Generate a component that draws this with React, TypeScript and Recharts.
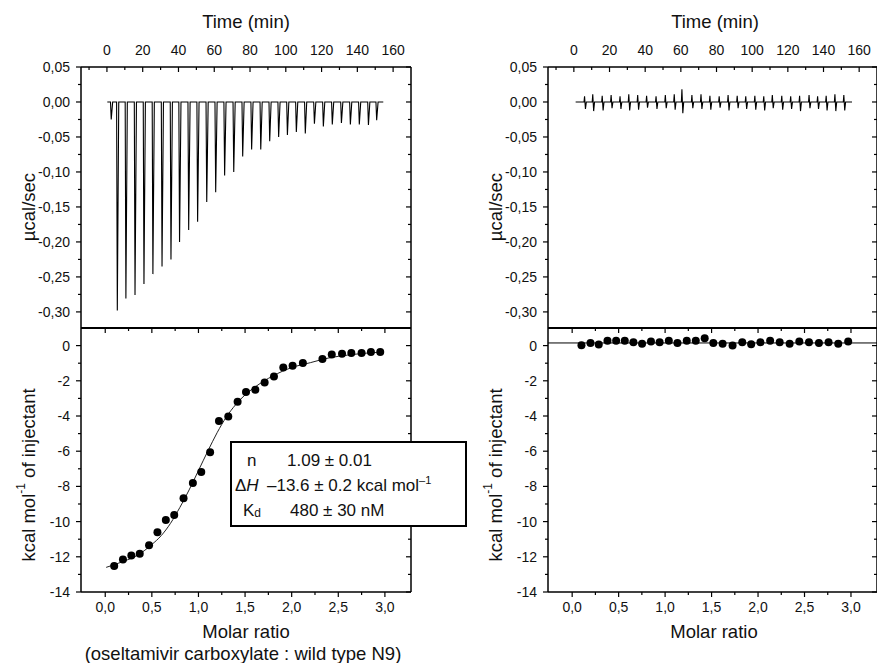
import React from 'react';
import { ComposedChart, Line, Scatter, XAxis, YAxis, ReferenceLine } from 'recharts';

const FONT = '"Liberation Sans", Arial, Helvetica, sans-serif';

// axis ticks
const TIME_MAJOR = [0, 20, 40, 60, 80, 100, 120, 140, 160];
const TIME_MINOR = [-10, 10, 30, 50, 70, 90, 110, 130, 150];
const POWER_MAJOR = [0.05, 0, -0.05, -0.1, -0.15, -0.2, -0.25, -0.3];
const POWER_MINOR = [0.025, -0.025, -0.075, -0.125, -0.175, -0.225, -0.275];
const RATIO_MAJOR = [0, 0.5, 1, 1.5, 2, 2.5, 3];
const RATIO_MINOR = [0.25, 0.75, 1.25, 1.75, 2.25, 2.75];
const HEAT_MAJOR = [0, -2, -4, -6, -8, -10, -12, -14];
const HEAT_MINOR = [-1, -3, -5, -7, -9, -11, -13];

// raw thermogram, wild type N9 (injection time in min, peak in µcal/sec)
const LEFT_INJ_TIME = [2.4, 5.8, 10.6, 15.7, 20.7, 25.7, 30.8, 35.8, 40.6, 45.7, 50.7, 55.8, 60.8, 65.8, 70.9, 75.9,
  80.9, 86.0, 91.0, 96.0, 100.9, 105.9, 110.9, 116.0, 121.0, 126.0, 131.1, 136.1, 141.1, 146.2, 150.8];
const LEFT_PEAK = [-0.025, -0.298, -0.281, -0.276, -0.26, -0.246, -0.235, -0.225, -0.2, -0.183, -0.171, -0.143, -0.129,
  -0.105, -0.1, -0.078, -0.068, -0.068, -0.056, -0.05, -0.047, -0.043, -0.045, -0.031, -0.035, -0.032, -0.03, -0.032,
  -0.032, -0.033, -0.026];

// raw thermogram, control (small up/down spikes)
const RIGHT_INJ_TIME = [6.0, 10.6, 15.9, 20.9, 25.9, 30.8, 35.8, 40.8, 46.1, 51.3, 56.3, 60.6, 66.2, 71.3, 76.3, 81.5,
  86.5, 91.6, 96.4, 101.5, 106.5, 111.3, 116.6, 121.6, 126.6, 131.9, 136.7, 141.5, 146.4, 151.4];
const RIGHT_UP = [0.008, 0.011, 0.009, 0.01, 0.008, 0.011, 0.01, 0.009, 0.008, 0.01, 0.011, 0.018, 0.01, 0.011, 0.009,
  0.008, 0.01, 0.009, 0.008, 0.009, 0.008, 0.01, 0.009, 0.008, 0.009, 0.01, 0.008, 0.009, 0.011, 0.01];
const RIGHT_DOWN = [-0.01, -0.013, -0.012, -0.009, -0.01, -0.012, -0.011, -0.008, -0.01, -0.009, -0.011, -0.016, -0.009,
  -0.01, -0.011, -0.008, -0.012, -0.009, -0.01, -0.011, -0.012, -0.009, -0.011, -0.01, -0.013, -0.009, -0.01, -0.012,
  -0.013, -0.012];

// integrated heats (molar ratio, kcal/mol)
const LEFT_RATIO = [0.096, 0.19, 0.28, 0.37, 0.47, 0.56, 0.65, 0.74, 0.84, 0.94, 1.03, 1.125, 1.22, 1.32, 1.42, 1.51,
  1.61, 1.71, 1.81, 1.91, 2.01, 2.12, 2.33, 2.43, 2.54, 2.64, 2.75, 2.85, 2.95];
const LEFT_HEAT = [-12.52, -12.16, -11.93, -11.82, -11.34, -10.6, -9.91, -9.63, -8.68, -7.81, -7.18, -6.06, -4.29, -4.03,
  -3.19, -2.64, -2.51, -2.09, -1.75, -1.24, -1.14, -0.99, -0.76, -0.51, -0.47, -0.42, -0.42, -0.36, -0.36];
const FIT_RATIO = [0.01, 0.2, 0.35, 0.5, 0.6, 0.7, 0.8, 0.9, 1.0, 1.1, 1.2, 1.3, 1.4, 1.5, 1.6, 1.7, 1.8, 1.9, 2.0, 2.2,
  2.4, 2.6, 2.8, 2.95];
const FIT_HEAT = [-12.6, -12.25, -11.9, -11.3, -10.8, -10.1, -9.2, -8.2, -7.1, -6.0, -4.95, -4.05, -3.35, -2.8, -2.38,
  -2.02, -1.72, -1.46, -1.25, -0.97, -0.7, -0.54, -0.43, -0.37];

const RIGHT_RATIO = [0.1, 0.197, 0.286, 0.38, 0.473, 0.566, 0.659, 0.752, 0.848, 0.941, 1.04, 1.133, 1.233, 1.33, 1.426,
  1.519, 1.619, 1.726, 1.83, 1.926, 2.026, 2.13, 2.233, 2.34, 2.444, 2.548, 2.655, 2.759, 2.863, 2.97];
const RIGHT_HEAT = [0.02, 0.15, 0.06, 0.27, 0.27, 0.27, 0.19, 0.11, 0.23, 0.19, 0.27, 0.15, 0.27, 0.27, 0.42, 0.15, 0.11,
  0.0, 0.19, 0.08, 0.19, 0.27, 0.19, 0.11, 0.23, 0.19, 0.15, 0.19, 0.11, 0.23];
const RIGHT_MEAN = 0.15;

const leftTrace: { x: number; y: number }[] = [{ x: 0.2, y: 0 }];
LEFT_INJ_TIME.forEach((t, i) => {
  leftTrace.push({ x: t - 0.4, y: 0 }, { x: t, y: LEFT_PEAK[i] }, { x: t + 0.8, y: 0 });
});
leftTrace.push({ x: 154.5, y: 0 });

const rightTrace: { x: number; y: number }[] = [{ x: 1.0, y: 0 }];
RIGHT_INJ_TIME.forEach((t, i) => {
  rightTrace.push({ x: t - 0.3, y: 0 }, { x: t, y: RIGHT_UP[i] }, { x: t + 0.5, y: RIGHT_DOWN[i] }, { x: t + 1, y: 0 });
});
rightTrace.push({ x: 156, y: 0 });

const leftPoints = LEFT_RATIO.map((x, i) => ({ x, y: LEFT_HEAT[i] }));
const fitLine = FIT_RATIO.map((x, i) => ({ x, y: FIT_HEAT[i] }));
const rightPoints = RIGHT_RATIO.map((x, i) => ({ x, y: RIGHT_HEAT[i] }));

const comma = (d: number) => (v: number) => v.toFixed(d).replace('.', ',');
const plain = (v: number) => String(v);

type Side = 'top' | 'bottom' | 'left' | 'right';

// draws tick line (major/minor, in or out) and label
const axisTick = (side: Side, inward: boolean, majors: number[], fmt?: (v: number) => string) => (props: any) => {
  const { x, y, payload } = props;
  const v = Number(payload.value);
  const major = majors.some(m => Math.abs(m - v) < 1e-9);
  const len = (major ? 5 : 3) * (inward ? -1 : 1);
  let x2 = x;
  let y2 = y;
  if (side === 'top') y2 = y - len;
  if (side === 'bottom') y2 = y + len;
  if (side === 'left') x2 = x - len;
  if (side === 'right') x2 = x + len;
  let label = null;
  if (fmt && major) {
    const common = { fontFamily: FONT, fontSize: 14, fill: '#111', dominantBaseline: 'central' as const };
    if (side === 'left') label = <text x={x - 11} y={y} textAnchor="end" {...common}>{fmt(v)}</text>;
    if (side === 'top') label = <text x={x} y={y - 17} textAnchor="middle" {...common}>{fmt(v)}</text>;
    if (side === 'bottom') label = <text x={x} y={y + 15} textAnchor="middle" {...common}>{fmt(v)}</text>;
  }
  return (
    <g>
      <line x1={x} y1={y} x2={x2} y2={y2} stroke="#000" strokeWidth={1.2} />
      {label}
    </g>
  );
};

const W = 900;
const H = 663;
const frame = { stroke: '#000', strokeWidth: 1.5 };
const TIME_DOMAIN = [-14.5, 170];
const RATIO_DOMAIN = [-0.26, 3.28];
const POWER_DOMAIN = [-0.323, 0.05];
const HEAT_DOMAIN = [-14, 1];

const timeTicks = [...TIME_MINOR, ...TIME_MAJOR].sort((a, b) => a - b);
const powerTicks = [...POWER_MINOR, ...POWER_MAJOR].sort((a, b) => a - b);
const ratioTicks = [...RATIO_MINOR, ...RATIO_MAJOR].sort((a, b) => a - b);
const heatTicks = [...HEAT_MINOR, ...HEAT_MAJOR].sort((a, b) => a - b);

const margins = (left: number, right: number, top: number, bottom: number) => ({
  left: left - 1,
  right: W - right - 1,
  top: top - 1,
  bottom: H - bottom - 1,
});

const PANEL_X = [
  [81, 411],
  [548, 877],
];
const TOP_Y = [67, 328];
const BOTTOM_Y = [328, 592];

const Abs: React.FC<{ children: React.ReactNode }> = ({ children }) => (
  <div style={{ position: 'absolute', left: 0, top: 0 }}>{children}</div>
);

const TopPanel: React.FC<{ idx: number; data: { x: number; y: number }[] }> = ({ idx, data }) => (
  <Abs>
    <ComposedChart width={W} height={H} margin={margins(PANEL_X[idx][0], PANEL_X[idx][1], TOP_Y[0], TOP_Y[1])}>
      <XAxis xAxisId="t" orientation="top" type="number" dataKey="x" domain={TIME_DOMAIN} allowDataOverflow height={1}
        ticks={timeTicks} interval={0} tickSize={0} tickMargin={0} axisLine={frame} tickLine={false}
        tick={axisTick('top', true, TIME_MAJOR, plain)} />
      <XAxis xAxisId="b" orientation="bottom" type="number" dataKey="x" domain={TIME_DOMAIN} allowDataOverflow height={1}
        ticks={timeTicks} interval={0} tickSize={0} tickMargin={0} axisLine={false} tickLine={false} tick={false} />
      <YAxis yAxisId="l" orientation="left" type="number" domain={POWER_DOMAIN} allowDataOverflow width={1}
        ticks={powerTicks} interval={0} tickSize={0} tickMargin={0} axisLine={frame} tickLine={false}
        tick={axisTick('left', false, POWER_MAJOR, comma(2))} />
      <YAxis yAxisId="r" orientation="right" type="number" domain={POWER_DOMAIN} allowDataOverflow width={1}
        ticks={powerTicks} interval={0} tickSize={0} tickMargin={0} axisLine={frame} tickLine={false}
        tick={axisTick('right', true, POWER_MAJOR)} />
      <Line xAxisId="b" yAxisId="l" data={data} dataKey="y" type="linear" stroke="#000" strokeWidth={1.1}
        dot={false} isAnimationActive={false} />
    </ComposedChart>
  </Abs>
);

const Dot = (p: any) => <circle cx={p.cx} cy={p.cy} r={4} fill="#000" />;

const BottomPanel: React.FC<{ idx: number; children: React.ReactNode }> = ({ idx, children }) => (
  <Abs>
    <ComposedChart width={W} height={H} margin={margins(PANEL_X[idx][0], PANEL_X[idx][1], BOTTOM_Y[0], BOTTOM_Y[1])}>
      <XAxis xAxisId="t" orientation="top" type="number" dataKey="x" domain={RATIO_DOMAIN} allowDataOverflow height={1}
        ticks={ratioTicks} interval={0} tickSize={0} tickMargin={0} axisLine={{ stroke: '#000', strokeWidth: 2 }}
        tickLine={false} tick={axisTick('top', true, RATIO_MAJOR)} />
      <XAxis xAxisId="b" orientation="bottom" type="number" dataKey="x" domain={RATIO_DOMAIN} allowDataOverflow height={1}
        ticks={ratioTicks} interval={0} tickSize={0} tickMargin={0} axisLine={frame} tickLine={false}
        tick={axisTick('bottom', false, RATIO_MAJOR, comma(1))} />
      <YAxis yAxisId="l" orientation="left" type="number" domain={HEAT_DOMAIN} allowDataOverflow width={1}
        ticks={heatTicks} interval={0} tickSize={0} tickMargin={0} axisLine={frame} tickLine={false}
        tick={axisTick('left', false, HEAT_MAJOR, plain)} />
      <YAxis yAxisId="r" orientation="right" type="number" domain={HEAT_DOMAIN} allowDataOverflow width={1}
        ticks={heatTicks} interval={0} tickSize={0} tickMargin={0} axisLine={frame} tickLine={false}
        tick={axisTick('right', true, HEAT_MAJOR)} />
      {children}
    </ComposedChart>
  </Abs>
);

const txt = { fontFamily: FONT, fill: '#111' };

const App: React.FC = () => (
  <div style={{ position: 'absolute', left: 0, top: 0, width: 877, height: 663, overflow: 'hidden', background: '#fff' }}>
    <TopPanel idx={0} data={leftTrace} />
    <TopPanel idx={1} data={rightTrace} />
    <BottomPanel idx={0}>
      <Line xAxisId="b" yAxisId="l" data={fitLine} dataKey="y" type="monotone" stroke="#222" strokeWidth={1}
        dot={false} isAnimationActive={false} />
      <Scatter xAxisId="b" yAxisId="l" data={leftPoints} dataKey="y" fill="#000" shape={Dot} isAnimationActive={false} />
    </BottomPanel>
    <BottomPanel idx={1}>
      <ReferenceLine xAxisId="b" yAxisId="l" y={RIGHT_MEAN} stroke="#000" strokeWidth={1} />
      <Scatter xAxisId="b" yAxisId="l" data={rightPoints} dataKey="y" fill="#000" shape={Dot} isAnimationActive={false} />
    </BottomPanel>
    <svg width={877} height={663} style={{ position: 'absolute', left: 0, top: 0, pointerEvents: 'none' }}>
      <text x={246} y={21} textAnchor="middle" dominantBaseline="central" fontSize={18.5} {...txt}>Time (min)</text>
      <text x={715} y={21} textAnchor="middle" dominantBaseline="central" fontSize={18.5} {...txt}>Time (min)</text>
      <text transform="translate(28,207) rotate(-90)" textAnchor="middle" dominantBaseline="central" fontSize={18.5} {...txt}>µcal/sec</text>
      <text transform="translate(495,207) rotate(-90)" textAnchor="middle" dominantBaseline="central" fontSize={18.5} {...txt}>µcal/sec</text>
      <text transform="translate(28,475) rotate(-90)" textAnchor="middle" dominantBaseline="central" fontSize={18.5} {...txt}>
        kcal mol<tspan fontSize={12} dy={-7}>-1</tspan><tspan dy={7}> of injectant</tspan>
      </text>
      <text transform="translate(495,475) rotate(-90)" textAnchor="middle" dominantBaseline="central" fontSize={18.5} {...txt}>
        kcal mol<tspan fontSize={12} dy={-7}>-1</tspan><tspan dy={7}> of injectant</tspan>
      </text>
      <text x={246} y={631} textAnchor="middle" dominantBaseline="central" fontSize={18.5} {...txt}>Molar ratio</text>
      <text x={714} y={631} textAnchor="middle" dominantBaseline="central" fontSize={18.5} {...txt}>Molar ratio</text>
      <text x={243} y={653} textAnchor="middle" dominantBaseline="central" fontSize={18.5} {...txt}>(oseltamivir carboxylate : wild type N9)</text>

      <rect x={231} y={442} width={235} height={84} fill="#fff" stroke="#000" strokeWidth={2} />
      <text x={247} y={466} fontSize={17} {...txt}>n</text>
      <text x={287} y={466} fontSize={17} {...txt}>1.09 ± 0.01</text>
      <text x={235} y={491} fontSize={17} {...txt}>Δ<tspan fontStyle="italic">H</tspan></text>
      <text x={267} y={491} fontSize={17} {...txt}>–13.6 ± 0.2 kcal mol<tspan fontSize={11} dy={-7}>–1</tspan></text>
      <text x={243} y={516} fontSize={17} {...txt}>K<tspan fontSize={12} dy={1}>d</tspan></text>
      <text x={290} y={516} fontSize={17} {...txt}>480 ± 30 nM</text>
    </svg>
  </div>
);

export default App;
